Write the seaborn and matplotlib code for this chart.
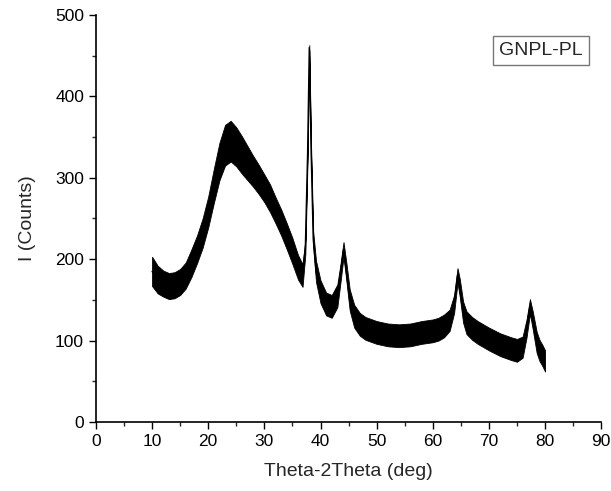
import numpy as np
import pandas as pd
import matplotlib
matplotlib.use("Agg")
import matplotlib.pyplot as plt
import seaborn as sns

# XRD pattern: centre of the trace and half-width of the noise band
two_theta = [10, 11, 12, 13, 14, 15, 16, 17, 18, 19, 20, 21, 22, 23, 24, 25, 26, 27, 28,
             29, 30, 31, 32, 33, 34, 35, 36, 36.8, 37.3, 37.7, 38.0, 38.3, 38.7, 39.2, 40,
             41, 42, 43, 43.6, 44.1, 44.6, 45.2, 46, 47, 48, 50, 52, 54, 56, 58, 60, 61,
             62, 63, 63.8, 64.4, 64.8, 65.4, 66, 67, 68, 70, 72, 74, 75, 76, 76.7, 77.3,
             77.8, 78.5, 79, 79.5, 80]
intensity = [185, 175, 170, 167, 168, 172, 180, 195, 212, 232, 258, 290, 320, 340, 345,
             338, 328, 318, 308, 298, 287, 275, 260, 245, 228, 210, 190, 180, 215, 330,
             460, 340, 225, 185, 160, 145, 142, 155, 185, 212, 185, 150, 130, 120, 115,
             110, 107, 106, 107, 110, 112, 114, 118, 125, 145, 180, 165, 135, 122, 115,
             110, 102, 95, 90, 88, 92, 115, 142, 125, 98, 88, 82, 75]
noise = [18, 17, 16, 16, 16, 16, 16, 17, 17, 18, 19, 21, 23, 25, 25, 24, 23, 21, 19,
         18, 17, 17, 16, 16, 16, 16, 15, 14, 9, 5, 3, 5, 9, 13, 14, 14, 14, 14, 11,
         9, 11, 13, 14, 14, 14, 14, 14, 14, 14, 14, 14, 14, 14, 13, 11, 9, 11, 13,
         14, 14, 14, 14, 14, 14, 14, 13, 11, 9, 11, 13, 13, 13, 13]

df = pd.DataFrame({"two_theta": two_theta, "intensity": intensity, "noise": noise})

sns.set_style("ticks")
plt.rcParams["font.family"] = ["Liberation Sans", "DejaVu Sans"]

fig = plt.figure(figsize=(6.11, 4.91), dpi=100)
ax = fig.add_axes([0.157, 0.1405, 0.827, 0.829])

ax.fill_between(df["two_theta"], df["intensity"] - df["noise"],
                df["intensity"] + df["noise"], color="black", linewidth=0.6)
sns.lineplot(data=df, x="two_theta", y="intensity", color="black", linewidth=1.0, ax=ax)

ax.set_xlim(0, 90)
ax.set_ylim(0, 500)
ax.set_xticks(np.arange(0, 91, 10))
ax.set_yticks(np.arange(0, 501, 100))
ax.set_xticks(np.arange(5, 90, 10), minor=True)
ax.set_yticks(np.arange(50, 500, 100), minor=True)
ax.tick_params(which="major", direction="out", length=5, width=1, labelsize=12.5, colors="black")
ax.tick_params(which="minor", direction="out", length=3, width=1)

ax.set_xlabel("Theta-2Theta (deg)", fontsize=14, labelpad=10)
ax.set_ylabel("I (Counts)", fontsize=14, labelpad=14)

sns.despine(ax=ax)
for side in ["left", "bottom"]:
    ax.spines[side].set_linewidth(1.2)
    ax.spines[side].set_color("black")

ax.text(0.881, 0.912, "GNPL-PL", transform=ax.transAxes, fontsize=14,
        ha="center", va="center",
        bbox=dict(boxstyle="square,pad=0.3", facecolor="white", edgecolor="#777777", linewidth=1))

fig.savefig("out.png", dpi=100)
